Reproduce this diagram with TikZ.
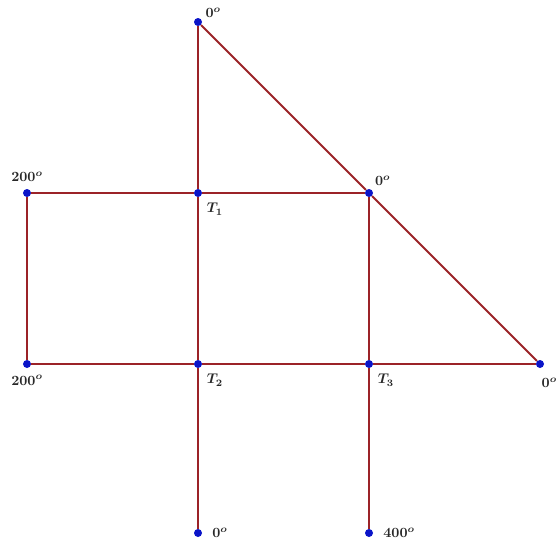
\documentclass[tikz,border=0pt]{standalone}
\usepackage{xcolor}
\usepackage{amsmath}
\usepackage{tikz}
\usetikzlibrary{positioning}
\definecolor{mywire}{RGB}{155,35,40}
\definecolor{mydot}{RGB}{10,20,200}
\definecolor{mydark}{RGB}{40,40,40}
\tikzset{
  pin/.style={circle, fill=mydot, inner sep=0pt, minimum size=0.2cm},
  wire/.style={line width=1.5pt, color=mywire},
  temp/.style={font=\normalsize\bfseries, text=mydark, inner sep=1pt}
}

\begin{document}
\begin{tikzpicture}[x=0.025cm, y=-0.025cm]
  \useasboundingbox (0,0) rectangle (558,547);

  % Boundary points
  \node[pin, label={[temp, anchor=south west, xshift=2pt]above right:$\boldsymbol{0^o}$}] (top) at (198, 22) {};
  \node[pin, label={[temp, anchor=south, yshift=4pt]above:$\boldsymbol{200^o}$}] (lt) at (27, 193) {};
  \node[pin, label={[temp, anchor=south west, xshift=1pt, yshift=2pt]above right:$\boldsymbol{0^o}$}] (rt) at (369, 193) {};
  \node[pin, label={[temp, anchor=north, yshift=-4pt]below:$\boldsymbol{200^o}$}] (lb) at (27, 364) {};
  \node[pin, label={[temp, anchor=north west, xshift=0pt, yshift=-6pt]below:$\boldsymbol{0^o}$}] (rb) at (540, 364) {};
  \node[pin, label={[temp, anchor=west, xshift=6pt]right:$\boldsymbol{0^o}$}] (b2) at (198, 533) {};
  \node[pin, label={[temp, anchor=west, xshift=6pt]right:$\boldsymbol{400^o}$}] (b3) at (369, 533) {};

  % Interior points
  \node[pin, label={[temp, anchor=north west, xshift=3pt, yshift=-4pt]below right:$\boldsymbol{T_1}$}] (t1) at (198, 193) {};
  \node[pin, label={[temp, anchor=north west, xshift=3pt, yshift=-4pt]below right:$\boldsymbol{T_2}$}] (t2) at (198, 364) {};
  \node[pin, label={[temp, anchor=north west, xshift=3pt, yshift=-4pt]below right:$\boldsymbol{T_3}$}] (t3) at (369, 364) {};

  % Grid lines
  \draw[wire] (top) -- (t1);
  \draw[wire] (t1) -- (t2);
  \draw[wire] (t2) -- (b2);
  \draw[wire] (lt) -- (t1);
  \draw[wire] (t1) -- (rt);
  \draw[wire] (lt) -- (lb);
  \draw[wire] (lb) -- (t2);
  \draw[wire] (t2) -- (t3);
  \draw[wire] (t3) -- (rb);
  \draw[wire] (rt) -- (t3);
  \draw[wire] (t3) -- (b3);
  \draw[wire] (top) -- (rt);
  \draw[wire] (rt) -- (rb);
\end{tikzpicture}
\end{document}
